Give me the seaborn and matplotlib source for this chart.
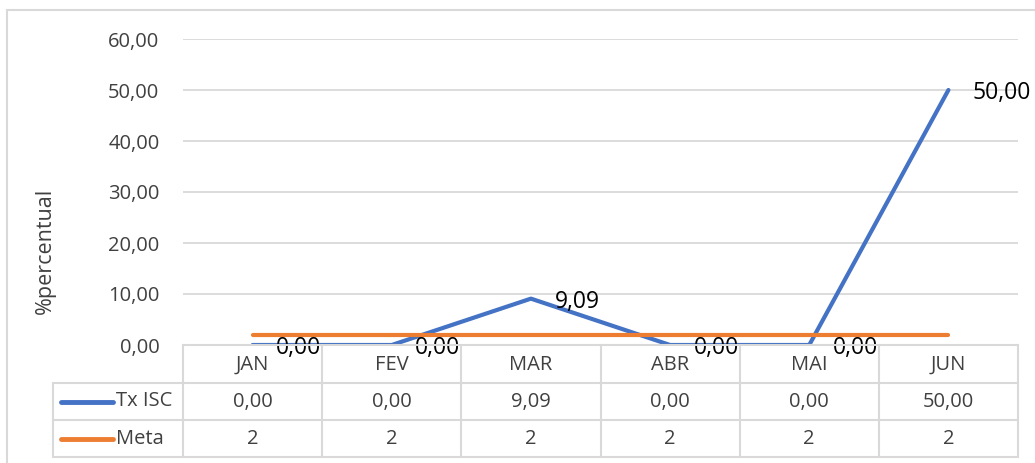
import matplotlib
matplotlib.use("Agg")
import matplotlib.pyplot as plt
from matplotlib.lines import Line2D
import seaborn as sns
import pandas as pd

# === Data ===
meses = ["JAN", "FEV", "MAR", "ABR", "MAI", "JUN"]
tx_isc = [0.00, 0.00, 9.09, 0.00, 0.00, 50.00]
meta = [2, 2, 2, 2, 2, 2]
y_ticks = [0, 10, 20, 30, 40, 50, 60]

AZUL = "#4472C4"
LARANJA = "#ED7D31"
GRID = "#D9D9D9"
TXT = "#404040"

sns.set_theme(style="white")
plt.rcParams["font.family"] = ["Open Sans", "DejaVu Sans"]

W, H = 1035, 463
fig = plt.figure(figsize=(W / 100, H / 100), dpi=100)


def fx(px):
    return px / W


def fy(py):
    return 1 - py / H


# plot area in pixels
L, R, T, B = 183, 1018, 39, 345
ax = fig.add_axes([fx(L), fy(B), fx(R - L), (B - T) / H])

df = pd.DataFrame({
    "mes": meses * 2,
    "valor": tx_isc + meta,
    "serie": ["Tx ISC"] * len(meses) + ["Meta"] * len(meses),
})
sns.lineplot(data=df, x="mes", y="valor", hue="serie",
             palette={"Tx ISC": AZUL, "Meta": LARANJA},
             linewidth=3.0, ax=ax, legend=False, sort=False,
             solid_capstyle="round", solid_joinstyle="round")

ax.set_xlim(-0.5, len(meses) - 0.5)
ax.set_ylim(0, 60)
ax.set_yticks(y_ticks)
ax.set_yticklabels([f"{v:.2f}".replace(".", ",") for v in y_ticks],
                   fontsize=14.5, color=TXT)
ax.tick_params(axis="y", length=0, pad=17)
ax.set_xticks([])
ax.set_xlabel("")
ax.set_ylabel("")
ax.grid(axis="y", color=GRID, linewidth=1.3)
ax.set_axisbelow(True)
for s in ax.spines.values():
    s.set_visible(False)
ax.patch.set_alpha(0)

# data labels (to the right of each point)
for i, v in enumerate(tx_isc):
    ax.annotate(f"{v:.2f}".replace(".", ","), (i, v), xytext=(17, -2.5),
                textcoords="offset points", ha="left", va="center",
                fontsize=16.5, color="black", annotation_clip=False)

fig.text(fx(45), fy(251), "%percentual", rotation=90, ha="center",
         va="center", fontsize=15.5, color=TXT)

# === Data table ===
col_w = (R - L) / len(meses)
rows = [345, 383, 420, 457]
tl = dict(color=GRID, linewidth=1.5, transform=fig.transFigure)
fig.add_artist(Line2D([fx(L), fx(R)], [fy(rows[0])] * 2, **tl))
for yy in rows[1:]:
    fig.add_artist(Line2D([fx(53), fx(R)], [fy(yy)] * 2, **tl))
for k in range(len(meses) + 1):
    xx = L + k * col_w
    fig.add_artist(Line2D([fx(xx)] * 2, [fy(rows[0]), fy(rows[-1])], **tl))
fig.add_artist(Line2D([fx(53)] * 2, [fy(rows[1]), fy(rows[-1])], **tl))

for k, m in enumerate(meses):
    cx = L + (k + 0.5) * col_w
    fig.text(fx(cx), fy((rows[0] + rows[1]) / 2 + 1), m, ha="center",
             va="center", fontsize=14.5, color=TXT)
    fig.text(fx(cx), fy((rows[1] + rows[2]) / 2), f"{tx_isc[k]:.2f}".replace(".", ","),
             ha="center", va="center", fontsize=14.5, color=TXT)
    fig.text(fx(cx), fy((rows[2] + rows[3]) / 2), str(meta[k]),
             ha="center", va="center", fontsize=14.5, color=TXT)

for (nome, cor), r in zip([("Tx ISC", AZUL), ("Meta", LARANJA)], [1, 2]):
    cy = (rows[r] + rows[r + 1]) / 2
    fig.add_artist(Line2D([fx(61), fx(113)], [fy(cy)] * 2, color=cor,
                          linewidth=3.5, solid_capstyle="round",
                          transform=fig.transFigure))
    fig.text(fx(116), fy(cy), nome, ha="left", va="center",
             fontsize=14.5, color=TXT)

# chart border
fig.add_artist(Line2D([fx(7), fx(W)], [fy(10)] * 2, **tl))
fig.add_artist(Line2D([fx(7)] * 2, [fy(10), 0], **tl))

fig.savefig("out.png", dpi=100)
